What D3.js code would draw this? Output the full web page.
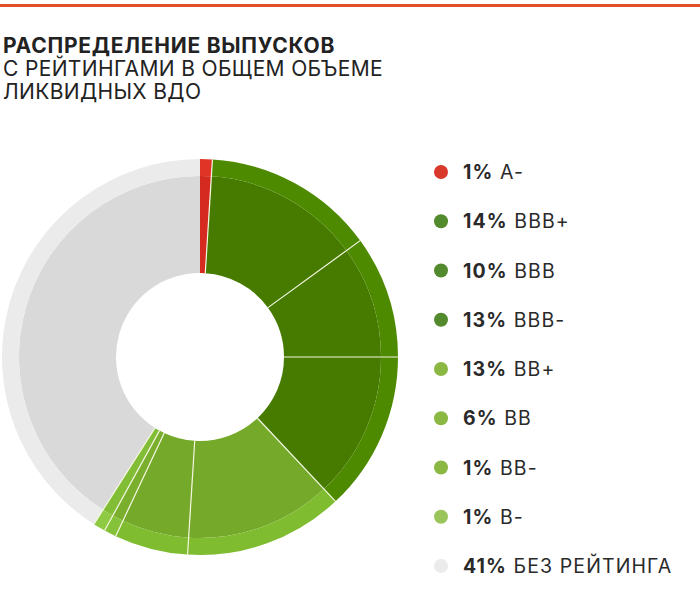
<!DOCTYPE html>
<html><head><meta charset="utf-8">
<script src="https://cdn.jsdelivr.net/npm/d3@7"></script>
<style>body{margin:0;background:#fff}svg{display:block}</style>
</head><body>
<svg id="c" width="700" height="603"></svg>
<script>
const categories = ["A-","BBB+","BBB","BBB-","BB+","BB","BB-","B-","БЕЗ РЕЙТИНГА"];
const values = [1,14,10,13,13,6,1,1,41];
const innerColors = ["#d42a20","#467b00","#467b00","#467b00","#74a92a","#74a92a","#7aaf2e","#82bd36","#d9d9d9"];
const outerColors = ["#e03427","#4d8a00","#4d8a00","#4d8a00","#7fbc30","#7fbc30","#86c13a","#8fca44","#ebebeb"];
const dotColors = ["#d8392b","#548a2e","#548a2e","#548a2e","#8bb743","#8bb743","#8bb743","#9ac55a","#ebebeb"];
const titleLines = ["РАСПРЕДЕЛЕНИЕ ВЫПУСКОВ","С РЕЙТИНГАМИ В ОБЩЕМ ОБЪЕМЕ","ЛИКВИДНЫХ ВДО"];

const svg = d3.select("#c");
svg.append("rect").attr("x",0).attr("y",4).attr("width",700).attr("height",3).attr("fill","#e2502b");

svg.append("g").selectAll("text").data(titleLines).join("text")
  .attr("x",3).attr("y",(d,i)=>53+i*23)
  .attr("font-family","Inter, 'Noto Sans', sans-serif")
  .attr("font-size",21).attr("font-weight",(d,i)=>i===0?700:400)
  .attr("letter-spacing",(d,i)=>i===0?"0.75px":"0.35px")
  .attr("fill","#222").text(d=>d);

const cx=200, cy=357, r0=84, r1=181, r2=198;
const pie = d3.pie().sort(null).value(d=>d);
const arcs = pie(values);
const g = svg.append("g").attr("transform",`translate(${cx},${cy})`);
const arcIn = d3.arc().innerRadius(r0).outerRadius(r1);
const arcOut = d3.arc().innerRadius(r1).outerRadius(r2);
g.selectAll("path.in").data(arcs).join("path").attr("class","in")
  .attr("d",arcIn).attr("fill",(d,i)=>innerColors[i]);
g.selectAll("path.out").data(arcs).join("path").attr("class","out")
  .attr("d",arcOut).attr("fill",(d,i)=>outerColors[i]);
g.selectAll("line.sep").data(arcs.slice(0,8)).join("line").attr("class","sep")
  .attr("x1",d=>r0*Math.sin(d.endAngle)).attr("y1",d=>-r0*Math.cos(d.endAngle))
  .attr("x2",d=>r2*Math.sin(d.endAngle)).attr("y2",d=>-r2*Math.cos(d.endAngle))
  .attr("stroke","#f4f6e0").attr("stroke-width",1.2);

const y = d3.scalePoint().domain(categories).range([172,566]);
const lg = svg.append("g");
lg.selectAll("circle").data(categories).join("circle")
  .attr("cx",441).attr("cy",d=>y(d)).attr("r",7).attr("fill",(d,i)=>dotColors[i]);
const t = lg.selectAll("text").data(categories).join("text")
  .attr("x",463).attr("y",d=>y(d)+7)
  .attr("font-family","Inter, 'Noto Sans', sans-serif").attr("font-size",19.5)
  .attr("letter-spacing","1.1px").attr("fill","#2a2a2a");
t.append("tspan").attr("font-weight",700).text((d,i)=>values[i]+"%");
t.append("tspan").text(d=>" "+d);
</script>
</body></html>
